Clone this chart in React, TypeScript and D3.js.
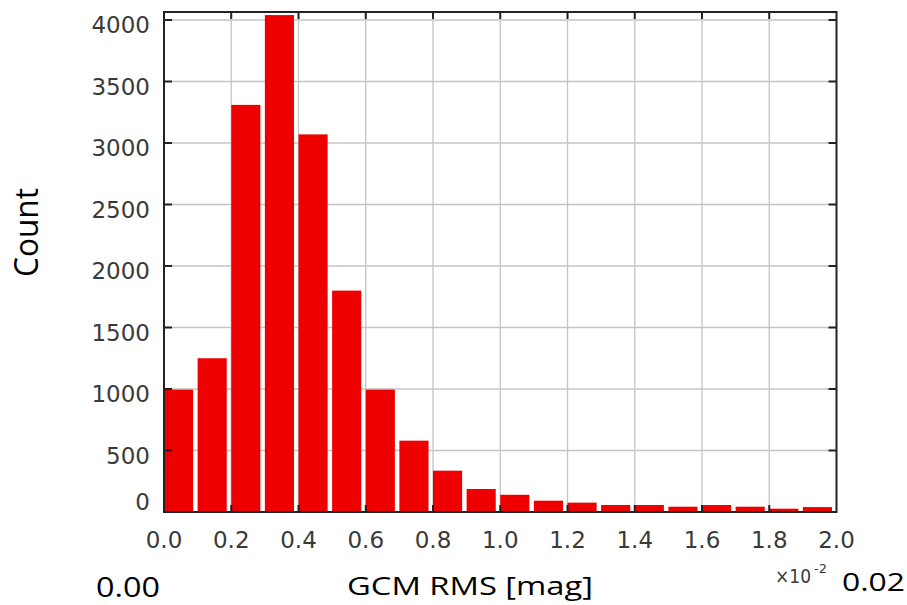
import React from "react";
import * as d3 from "d3";

const counts = [995, 1250, 3310, 4040, 3070, 1800, 995, 580, 336, 187, 140, 92, 76, 57, 57, 43, 57, 43, 27, 40];
const binWidth = 0.1;
const xTicks = [0.0, 0.2, 0.4, 0.6, 0.8, 1.0, 1.2, 1.4, 1.6, 1.8, 2.0];
const yTicks = [0, 500, 1000, 1500, 2000, 2500, 3000, 3500, 4000];

const W = 907;
const H = 605;
const L = 164, R = 836.5, T = 12, B = 512;

export default function App() {
  const x = d3.scaleLinear().domain([0, 2.0]).range([L, R]);
  const y = d3.scaleLinear().domain([0, 4065]).range([B, T]);
  const gap = 4.5;
  const tickFont = "'DejaVu Sans', sans-serif";
  const bigFont = "'Open Sans', sans-serif";
  return (
    <svg width={W} height={H} style={{ position: "absolute", left: 0, top: 0, background: "#fff" }}>
      {xTicks.slice(1, -1).map((t) => (
        <line key={"gx" + t} x1={x(t)} x2={x(t)} y1={T} y2={B} stroke="#c4c4c4" strokeWidth={1.3} />
      ))}
      {yTicks.slice(1).map((t) => (
        <line key={"gy" + t} x1={L} x2={R} y1={y(t)} y2={y(t)} stroke="#c4c4c4" strokeWidth={1.3} />
      ))}
      {counts.map((c, i) => (
        <rect
          key={"b" + i}
          x={x(i * binWidth)}
          y={y(c)}
          width={x((i + 1) * binWidth) - x(i * binWidth) - gap}
          height={B - y(c)}
          fill="#ee0000"
        />
      ))}
      {xTicks.slice(1, -1).map((t) => (
        <g key={"tx" + t}>
          <line x1={x(t)} x2={x(t)} y1={B} y2={B - 7} stroke="#222" strokeWidth={2} />
          <line x1={x(t)} x2={x(t)} y1={T} y2={T + 7} stroke="#222" strokeWidth={2} />
        </g>
      ))}
      {yTicks.slice(1).map((t) => (
        <g key={"ty" + t}>
          <line x1={L} x2={L + 8} y1={y(t)} y2={y(t)} stroke="#222" strokeWidth={2} />
          <line x1={R} x2={R - 8} y1={y(t)} y2={y(t)} stroke="#222" strokeWidth={2} />
        </g>
      ))}
      <rect x={L} y={T} width={R - L} height={B - T} fill="none" stroke="#222" strokeWidth={2} />
      {yTicks.map((t) => (
        <text
          key={"ly" + t}
          x={150}
          y={Math.min(y(t) + 13.5, B - 2)}
          textAnchor="end"
          fontFamily={tickFont}
          fontSize={23}
          fill="#3a3a3a"
        >
          {String(t)}
        </text>
      ))}
      {xTicks.map((t) => (
        <text
          key={"lx" + t}
          x={x(t)}
          y={548}
          textAnchor="middle"
          fontFamily={tickFont}
          fontSize={23}
          fill="#3a3a3a"
        >
          {t.toFixed(1)}
        </text>
      ))}
      <text x={775} y={583} fontFamily={tickFont} fontSize={19} textLength={36} lengthAdjust="spacingAndGlyphs" fill="#3a3a3a">
        ×10
      </text>
      <text x={814} y={573} fontFamily={tickFont} fontSize={13} fill="#3a3a3a">
        -2
      </text>
      <text
        transform="translate(38,232.5) rotate(-90)"
        textAnchor="middle"
        fontFamily={bigFont}
        fontSize={33}
        textLength={89}
        lengthAdjust="spacingAndGlyphs"
        fill="#000"
      >
        Count
      </text>
      <text x={96} y={597} fontFamily={bigFont} fontSize={28} textLength={64} lengthAdjust="spacingAndGlyphs" fill="#000">
        0.00
      </text>
      <text x={347} y={595} fontFamily={bigFont} fontSize={25} textLength={246} lengthAdjust="spacingAndGlyphs" fill="#000">
        GCM RMS [mag]
      </text>
      <text x={842} y={591} fontFamily={bigFont} fontSize={25} textLength={63} lengthAdjust="spacingAndGlyphs" fill="#000">
        0.02
      </text>
    </svg>
  );
}
